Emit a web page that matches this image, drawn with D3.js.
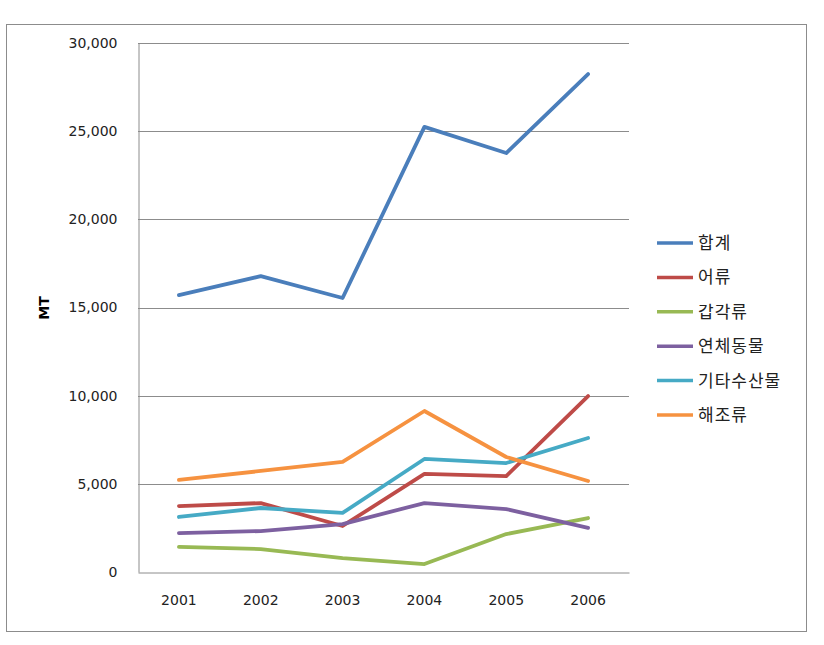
<!DOCTYPE html>
<html><head><meta charset="utf-8">
<script src="https://cdn.jsdelivr.net/npm/d3@7"></script>
<style>body{margin:0;background:#fff}svg{display:block}</style>
</head><body>
<script>
const years = ["2001","2002","2003","2004","2005","2006"];
const seriesNames = ["합계","어류","갑각류","연체동물","기타수산물","해조류"];
const total = [15700, 16780, 15540, 25240, 23760, 28240];
const fish = [3740, 3910, 2610, 5560, 5440, 9980];
const crustacean = [1420, 1300, 790, 450, 2150, 3060];
const mollusc = [2210, 2320, 2720, 3910, 3570, 2500];
const otherSea = [3120, 3630, 3350, 6410, 6180, 7600];
const seaweed = [5220, 5730, 6240, 9130, 6520, 5160];
const yTicks = [0, 5000, 10000, 15000, 20000, 25000, 30000];
const colors = ["#4A7EBB","#BE4B48","#98B954","#7D60A0","#46AAC5","#F69240"];
const allSeries = [total, fish, crustacean, mollusc, otherSea, seaweed];

const W = 824, H = 645;
const svg = d3.select("body").append("svg").attr("width", W).attr("height", H);
svg.append("rect").attr("x",6.5).attr("y",24.5).attr("width",800).attr("height",607)
  .attr("fill","#fff").attr("stroke","#8c8c8c").attr("stroke-width",1);

const L = 138, R = 629, T = 43, B = 572;
const x = d3.scaleBand().domain(years).range([L, R]);
const y = d3.scaleLinear().domain([0, 30000]).range([B, T]);

// gridlines
svg.append("g").selectAll("line").data(yTicks.filter(d=>d>0)).join("line")
  .attr("x1", L).attr("x2", R).attr("y1", d=>Math.round(y(d))+0.5).attr("y2", d=>Math.round(y(d))+0.5)
  .attr("stroke","#8c8c8c").attr("stroke-width",1);

const fmt = d3.format(",");
const yAxis = svg.append("g").attr("transform",`translate(${L+0.5},0)`)
  .call(d3.axisLeft(y).tickValues(yTicks).tickFormat(fmt).tickSize(0).tickPadding(21));
yAxis.select(".domain").attr("stroke","#8c8c8c");
yAxis.selectAll("text").attr("font-family","DejaVu Sans, Verdana, sans-serif").attr("font-size","14px").attr("fill","#222");

const xAxis = svg.append("g").attr("transform",`translate(0,${Math.round(B)+0.5})`)
  .call(d3.axisBottom(x).tickSize(0).tickPadding(23));
xAxis.select(".domain").attr("stroke","#8c8c8c");
xAxis.selectAll("text").attr("font-family","DejaVu Sans, Verdana, sans-serif").attr("font-size","14px").attr("fill","#222");

svg.append("text").attr("transform","translate(49,308) rotate(-90)")
  .attr("text-anchor","middle").attr("font-family","DejaVu Sans, Verdana, sans-serif")
  .attr("font-size","14px").attr("font-weight","bold").text("MT");

const line = d3.line().x((d,i)=>x(years[i]) + x.bandwidth()/2).y(d=>y(d));
svg.append("g").selectAll("path").data(allSeries).join("path")
  .attr("d", d=>line(d)).attr("fill","none")
  .attr("stroke",(d,i)=>colors[i]).attr("stroke-width",3.8)
  .attr("stroke-linejoin","round").attr("stroke-linecap","round");

// legend
const lg = svg.append("g");
seriesNames.forEach((n,i)=>{
  const yy = 243 + i*34.4;
  lg.append("line").attr("x1",657).attr("x2",693).attr("y1",yy).attr("y2",yy)
    .attr("stroke",colors[i]).attr("stroke-width",3.5);
  lg.append("text").attr("x",698).attr("y",yy).attr("dy","0.35em")
    .attr("font-family","Noto Sans CJK KR, sans-serif").attr("font-size","17px")
    .attr("letter-spacing","1px").attr("fill","#222").text(n);
});
</script>
</body></html>
